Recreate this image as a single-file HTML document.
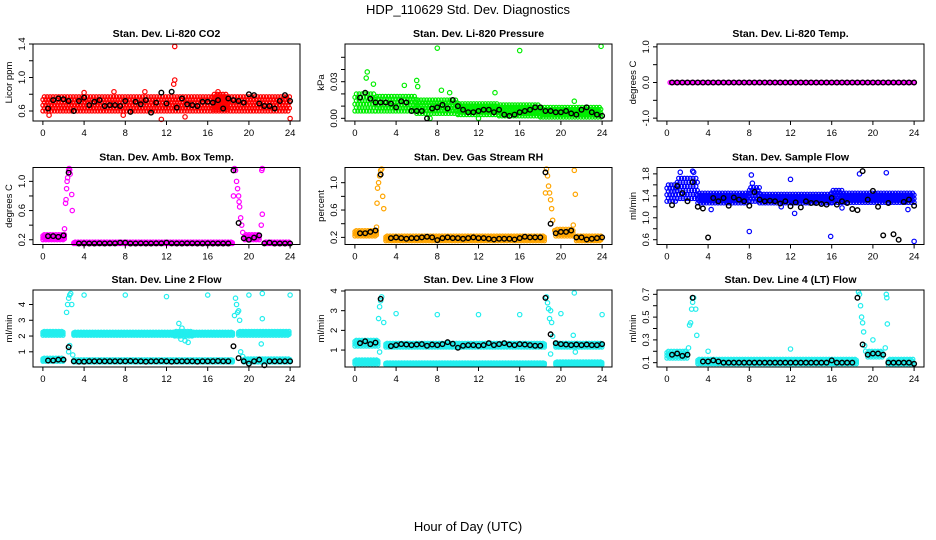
<!DOCTYPE html>
<html><head><meta charset="utf-8"><style>
body{margin:0;background:#fff}
svg{display:block;font-family:"Liberation Sans",sans-serif}
</style></head><body>
<svg id="c" width="936" height="540">
<text x="468" y="14" text-anchor="middle" font-size="13">HDP_110629  Std. Dev. Diagnostics</text>
<text x="468" y="531" text-anchor="middle" font-size="13">Hour of Day (UTC)</text>
</svg>
<script>
const titles=["Stan. Dev. Li-820 CO2","Stan. Dev. Li-820 Pressure","Stan. Dev. Li-820 Temp.","Stan. Dev. Amb. Box Temp.","Stan. Dev. Gas Stream RH","Stan. Dev. Sample Flow","Stan. Dev. Line 2 Flow","Stan. Dev. Line 3 Flow","Stan. Dev. Line 4 (LT) Flow"];
const ylabels=["Licor ppm","kPa","degrees C","degrees C","percent","ml/min","ml/min","ml/min","ml/min"];
const colors=["#ff0000","#00ee00","#ff00ff","#ff00ff","#ffa500","#0000ff","#22eeee","#22eeee","#22eeee"];
const ydomains=[[0.4806,1.4],[-0.0022,0.0609],[-1.08,1.08],[0.135,1.19],[0.096,1.222],[0.513,1.916],[0.036,4.92],[0.14,4.05],[0.062,0.738]];
const yticks=[[0.6,0.8,1.0,1.2,1.4],[0,0.01,0.02,0.03,0.04,0.05],[-1,-0.5,0,0.5,1],[0.2,0.4,0.6,0.8,1.0],[0.2,0.4,0.6,0.8,1.0],[0.6,0.8,1.0,1.2,1.4,1.6,1.8],[1,2,3,4],[1,2,3,4],[0.1,0.2,0.3,0.4,0.5,0.6,0.7]];
const ytickLabels=[["0.6","","1.0","","1.4"],["0.00","","","0.03","",""],["-1.0","","0.0","","1.0"],["0.2","","0.6","","1.0"],["0.2","","0.6","","1.0"],["0.6","","1.0","","1.4","","1.8"],["1","2","3","4"],["1","2","3","4"],["0.1","","0.3","","0.5","","0.7"]];
const xticks=[0,4,8,12,16,20,24];
const bands=[
[[0,24,0.6,0.77],[16.5,18,0.62,0.8]],
[[0,2,0.006,0.02],[2,6,0.006,0.018],[6,10,0.004,0.015],[10,14,0.003,0.012],[14,18,0.002,0.011],[18,24,0.001,0.009]],
[[0.3,24,0,0]],
[[0,2.1,0.2,0.27],[3.0,18.5,0.12,0.17],[19.6,21.0,0.2,0.27],[21.5,24,0.12,0.17]],
[[0,2.1,0.22,0.3],[3.0,18.5,0.15,0.22],[19.5,21.2,0.22,0.32],[21.5,24,0.15,0.22]],
[[0,1,1.3,1.6],[1,3,1.35,1.72],[3,8,1.27,1.45],[8,9,1.3,1.55],[9,16,1.27,1.43],[16,17,1.28,1.5],[17,24,1.28,1.45]],
[[0,2,2.05,2.3],[3,12.8,2.05,2.25],[12.8,14.5,2.0,2.3],[14.5,18.5,2.05,2.25],[19,24,2.05,2.3],[0,2,0.4,0.6],[3,18.5,0.35,0.5],[19.5,24,0.35,0.55]],
[[0,2.3,1.2,1.5],[3,18.5,1.15,1.35],[19.5,24,1.15,1.35],[0,2.3,0.3,0.5],[3,18.5,0.25,0.35],[19.5,24,0.25,0.4]],
[[0,2,0.14,0.2],[3,18.5,0.09,0.13],[19.5,21,0.15,0.2],[21.5,24,0.08,0.13]]
];
const outliers=[
[[12.8,1.37],[12.8,0.97],[12.7,0.92],[11.5,0.5],[24,0.51],[0.6,0.55],[13.8,0.53],[7.8,0.55],[17,0.83],[9.9,0.83],[4,0.82],[6.9,0.83]],
[[8,0.0575],[16,0.0555],[23.9,0.059],[1.2,0.038],[1.1,0.033],[1.8,0.028],[4.8,0.027],[6,0.031],[6.1,0.026],[8.4,0.023],[9.2,0.021],[13.6,0.021],[21.3,0.014],[7.3,0.0],[12,0.0]],
[],
[[2.1,0.35],[2.2,0.7],[2.25,0.75],[2.3,0.9],[2.35,1.0],[2.4,1.05],[2.5,1.15],[2.55,1.18],[2.6,1.16],[2.65,1.1],[2.8,0.82],[2.85,0.6],[18.6,1.18],[18.7,1.15],[18.8,1.0],[18.9,0.9],[19.0,0.8],[19.05,0.72],[19.1,0.65],[19.2,0.5],[19.3,0.4],[19.4,0.3],[18.5,0.8],[21.3,1.18],[21.25,1.15],[21.3,0.55],[21.2,0.4]],
[[2.1,0.35],[2.15,0.7],[2.2,0.92],[2.3,1.0],[2.4,1.1],[2.5,1.18],[2.6,1.2],[2.7,0.8],[2.8,0.62],[18.5,0.85],[18.6,1.2],[18.7,1.1],[18.8,0.95],[18.9,0.85],[19.0,0.75],[19.1,0.62],[19.2,0.45],[19.4,0.3],[21.3,1.18],[21.4,0.83],[21.2,0.38]],
[[2.5,1.85],[2.6,1.83],[1.3,1.83],[8.2,1.78],[12,1.7],[18.7,1.8],[21.3,1.82],[8,0.75],[15.9,0.66],[24,0.57],[12.4,1.08],[4.3,1.15],[23.4,1.15],[11.1,1.2],[17,1.18],[8.3,1.63]],
[[2.3,3.5],[2.4,4.0],[2.5,4.4],[2.6,4.6],[2.7,4.7],[2.8,4.0],[2.6,1.4],[2.5,1.0],[2.9,0.8],[4,4.6],[8,4.6],[12,4.5],[16,4.6],[20,4.6],[21.3,4.7],[24,4.6],[13.2,2.8],[13.5,2.5],[13.4,1.8],[13.8,1.7],[14.1,1.6],[18.6,3.3],[18.7,4.4],[18.8,4.0],[19,3.6],[19.1,3.0],[18.9,3.5],[19.2,1.0],[21.3,3.1],[21.2,1.5],[19.4,0.7]],
[[2.3,2.6],[2.4,3.2],[2.5,3.5],[2.6,3.7],[2.8,2.4],[2.4,0.9],[4,2.85],[8,2.8],[12,2.8],[16,2.8],[20,2.85],[24,2.8],[21.3,3.9],[21.2,1.75],[21.4,0.9],[18.6,3.7],[18.7,3.4],[18.8,3.1],[18.9,2.6],[19,3.0],[19.1,2.4],[19.2,1.7],[19.0,0.8]],
[[1.8,0.2],[2.1,0.23],[2.2,0.43],[2.3,0.45],[2.4,0.57],[2.5,0.63],[2.6,0.67],[2.8,0.57],[2.9,0.34],[4,0.2],[12,0.22],[18.6,0.72],[18.7,0.7],[18.8,0.6],[18.9,0.5],[19,0.45],[19.1,0.37],[19.2,0.25],[19.3,0.2],[20,0.3],[21.3,0.7],[21.35,0.67],[21.4,0.44],[21.2,0.23]]
];
const blackVals=[
[null,0.63,0.73,0.75,0.74,0.72,0.6,0.72,0.76,0.67,0.71,0.73,0.66,0.67,0.67,0.66,0.72,0.59,0.71,0.68,0.73,0.58,0.7,0.82,0.69,0.83,0.64,0.75,0.68,0.67,0.66,0.71,0.71,0.7,0.73,0.63,0.75,0.73,0.72,0.7,0.8,0.79,0.69,0.66,0.66,0.63,0.72,0.79,0.72],
[null,0.017,0.021,0.016,0.013,0.013,0.013,0.012,0.009,0.014,0.013,0.006,0.006,0.006,0.0,0.008,0.009,0.011,0.008,0.015,0.01,0.007,0.005,0.005,0.006,0.007,0.007,0.005,0.007,0.003,0.002,0.003,0.005,0.006,0.007,0.009,0.009,0.006,0.006,0.005,0.005,0.006,0.004,0.003,0.007,0.009,0.005,0.003,0.002],
[null,0,0,0,0,0,0,0,0,0,0,0,0,0,0,0,0,0,0,0,0,0,0,0,0,0,0,0,0,0,0,0,0,0,0,0,0,0,0,0,0,0,0,0,0,0,0,0,0],
[null,0.25,0.25,0.24,0.26,1.12,null,0.14,0.15,0.13,0.14,0.15,0.13,0.15,0.15,0.16,0.16,0.13,0.13,0.15,0.14,0.14,0.15,0.15,0.16,0.15,0.14,0.14,0.15,0.15,0.14,0.14,0.15,0.14,0.14,0.13,0.14,1.15,0.43,0.22,0.2,0.23,0.26,0.15,0.16,0.13,0.14,0.13,0.13],
[null,0.26,0.26,0.28,0.3,1.12,null,0.19,0.2,0.19,0.18,0.19,0.19,0.2,0.21,0.2,0.16,0.19,0.2,0.19,0.19,0.18,0.19,0.2,0.19,0.19,0.18,0.17,0.18,0.18,0.18,0.17,0.19,0.21,0.2,0.2,0.2,1.15,0.4,0.26,0.28,0.28,0.3,0.2,0.2,0.17,0.18,0.19,0.2],
[null,1.23,1.58,1.45,1.3,1.65,1.2,1.17,0.64,1.36,1.3,1.36,1.22,1.37,1.33,1.3,1.22,1.47,1.33,1.3,1.31,1.3,1.26,1.3,1.21,1.28,1.19,1.3,1.27,1.27,1.25,1.24,1.36,1.24,1.3,1.27,1.16,1.14,1.85,1.33,1.49,1.2,0.68,1.27,0.7,0.6,1.29,1.33,1.22],
[null,0.45,0.45,0.5,0.5,1.3,0.4,0.38,0.38,0.4,0.4,0.4,0.4,0.4,0.4,0.4,0.4,0.42,0.4,0.4,0.38,0.4,0.4,0.42,0.4,0.38,0.4,0.4,0.4,0.4,0.38,0.4,0.4,0.4,0.42,0.4,0.4,1.35,0.6,0.4,0.25,0.4,0.5,0.15,0.4,0.4,0.4,0.4,0.4],
[null,1.35,1.45,1.3,1.38,3.6,null,1.2,1.25,1.3,1.28,1.25,1.28,1.3,1.22,1.28,1.25,1.3,1.4,1.32,1.12,1.22,1.25,1.25,1.22,1.25,1.35,1.25,1.3,1.35,1.28,1.25,1.3,1.28,1.25,1.22,1.22,3.65,1.8,1.35,1.3,1.28,1.25,1.28,1.25,1.28,1.25,1.25,1.3],
[null,0.17,0.18,0.16,0.17,0.67,null,0.11,0.11,0.12,0.11,0.1,0.1,0.1,0.1,0.1,0.1,0.1,0.1,0.1,0.1,0.1,0.1,0.1,0.1,0.1,0.1,0.1,0.1,0.1,0.1,0.1,0.12,0.1,0.1,0.1,0.1,0.67,0.26,0.17,0.18,0.18,0.17,0.1,0.1,0.1,0.1,0.1,0.09]
];
const svg=document.getElementById('c');
const NS='http://www.w3.org/2000/svg';
const colL=[33,345,657], rowT=[44,167.5,290], W=267, H=77;
function mk(t,a,p){const e=document.createElementNS(NS,t);for(const k in a)e.setAttribute(k,a[k]);(p||svg).appendChild(e);return e;}
for(let p=0;p<9;p++){
  const L=colL[p%3], T=rowT[Math.floor(p/3)];
  const g=mk('g',{});
  
  
  const xs=h=>L+(h+0.96)/25.92*W;
  const [y0,y1]=ydomains[p];
  const ys=v=>T+H-(v-y0)/(y1-y0)*H;
  const clip=v=>Math.max(T+1,Math.min(T+H-1,v));
  const tt=mk('text',{x:L+W/2,y:T-7,'text-anchor':'middle','font-size':'10.5','font-weight':'bold'},g);tt.textContent=titles[p];
  
  
  const marks=mk('g',{fill:'none','stroke-width':'1.2'},g);
  
  
  const col=colors[p];
  bands[p].forEach(s=>{
    let j=0;
    for(let h=s[0];h<=s[1]+1e-9;h+=0.14,j++){
      const n=s[3]===s[2]?1:3;
      for(let k=0;k<n;k++){
        const f=n>1?(k+(j%2?0.5:0))/(n-0.5):0;
        const v=s[2]+f*(s[3]-s[2]);
        mk('circle',{cx:xs(h),cy:clip(ys(v)),r:2.0,stroke:col},marks);}
    }
  });
  outliers[p].forEach(o=>mk('circle',{cx:xs(o[0]),cy:clip(ys(o[1])),r:2.2,stroke:col},marks));
  blackVals[p].forEach((v,i)=>{if(v===null)return;mk('circle',{cx:xs(i/2),cy:clip(ys(v)),r:2.3,stroke:'#000','stroke-width':'1.4'},marks);});
  const bx=mk('rect',{x:L,y:T,width:W,height:H,fill:'none',stroke:'#000','stroke-width':'1'},g);
  
  
  xticks.forEach(t=>{const x=xs(t);mk('line',{x1:x,x2:x,y1:T+H,y2:T+H+4,stroke:'#000'},g);
    const l=mk('text',{x:x,y:T+H+15,'text-anchor':'middle','font-size':'9.5'},g);l.textContent=t;
    
    });
  mk('line',{x1:xs(0),x2:xs(24),y1:T+H,y2:T+H,stroke:'#000'},g);
  yticks[p].forEach((t,i)=>{const y=ys(t);mk('line',{x1:L-4,x2:L,y1:y,y2:y,stroke:'#000'},g);
    const lab=ytickLabels[p][i];if(lab){const l=mk('text',{x:L-8,y:y,'text-anchor':'middle','font-size':'9.5',transform:'rotate(-90 '+(L-8)+' '+y+')'},g);l.textContent=lab;
    
    }});
  const yl=mk('text',{x:L-21,y:T+H/2,'text-anchor':'middle','font-size':'9.5',transform:'rotate(-90 '+(L-21)+' '+(T+H/2)+')'},g);yl.textContent=ylabels[p];
  
  
}
</script>
</body></html>
